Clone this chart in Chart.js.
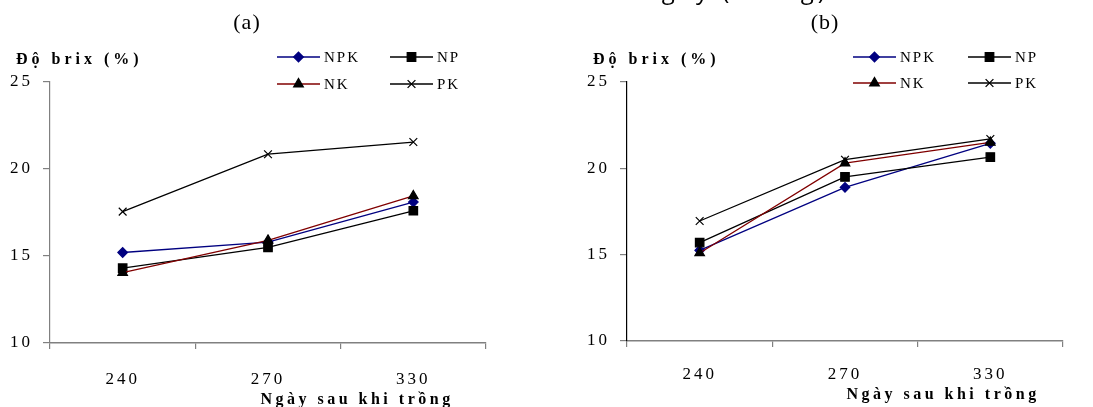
<!DOCTYPE html>
<html>
<head>
<meta charset="utf-8">
<script src="https://cdn.jsdelivr.net/npm/chart.js"></script>
<style>
  html, body { margin: 0; padding: 0; background: #fff; }
  #wrap { position: relative; width: 1093px; height: 407px; overflow: hidden; }
  canvas { position: absolute; top: 0; }
  #chartA { left: 0; }
  #chartB { left: 546px; }
</style>
</head>
<body>
<div id="wrap">
  <canvas id="chartA" width="546" height="407"></canvas>
  <canvas id="chartB" width="547" height="407"></canvas>
</div>
<script>
// Days after planting
const days = ['240', '270', '330'];
const seriesNames = ['NPK', 'NP', 'NK', 'PK'];

// (a)
const npkA = [15.2, 15.8, 18.1];
const npA = [14.3, 15.5, 17.6];
const nkA = [14.05, 15.9, 18.45];
const pkA = [17.55, 20.85, 21.55];

// (b)
const npkB = [15.25, 18.9, 21.45];
const npB = [15.7, 19.5, 20.65];
const nkB = [15.1, 20.3, 21.5];
const pkB = [16.95, 20.5, 21.7];

const yTicks = [10, 15, 20, 25];

const styles = [
    { color: '#000080', marker: 'rectRot', r: 4.8, fill: '#000080' },
    { color: '#000000', marker: 'rect', r: 6, fill: '#000000' },
    { color: '#800000', marker: 'triangle', r: 5.5, fill: '#000000' },
    { color: '#000000', marker: 'crossRot', r: 5.5, fill: '#000000' }
];

const serif = '"Liberation Serif", "Times New Roman", serif';

// draws panel label, y title, x title, and the legend
const textPlugin = {
    id: 'texts',
    beforeDraw(chart) {
        chart.ctx.letterSpacing = '3px';
    },
    afterDraw(chart) {
        const o = chart.options.plugins.texts;
        const ctx = chart.ctx;
        ctx.save();
        ctx.fillStyle = '#000';

        // caption of the figure above, cut off by the page edge
        if (o.topText) {
            ctx.letterSpacing = '4px';
            ctx.font = '24px "Open Sans", sans-serif';
            ctx.textAlign = 'left';
            ctx.textBaseline = 'alphabetic';
            ctx.fillText(o.topText, o.topTextX, -1);
        }

        ctx.letterSpacing = '1px';
        ctx.font = '22px ' + serif;
        ctx.textAlign = 'center';
        ctx.textBaseline = 'middle';
        ctx.fillText(o.panel, o.panelX, 23);

        ctx.letterSpacing = '4px';
        ctx.font = 'bold 16px ' + serif;
        ctx.textAlign = 'left';
        ctx.fillText('Độ brix (%)', o.yTitleX, 60);

        ctx.letterSpacing = '3.5px';
        ctx.textAlign = 'center';
        ctx.textBaseline = 'alphabetic';
        ctx.fillText('Ngày sau khi trồng', o.xTitleX, o.xTitleY);

        // legend, 2 x 2
        ctx.font = '15px ' + serif;
        ctx.letterSpacing = '2px';
        ctx.textAlign = 'left';
        ctx.textBaseline = 'middle';
        chart.data.datasets.forEach((ds, i) => {
            const col = i % 2, row = Math.floor(i / 2);
            const x0 = o.legendX[col], y = o.legendY[row];
            const x1 = x0 + 43;
            ctx.strokeStyle = ds.borderColor;
            ctx.lineWidth = 1.3;
            ctx.beginPath();
            ctx.moveTo(x0, y);
            ctx.lineTo(x1, y);
            ctx.stroke();
            ctx.fillStyle = ds.pointBackgroundColor;
            ctx.strokeStyle = ds.pointBorderColor;
            Chart.helpers.drawPoint(ctx, {
                pointStyle: ds.pointStyle,
                radius: ds.pointRadius,
                rotation: 0,
                borderWidth: 1.2
            }, (x0 + x1) / 2, y);
            ctx.fillStyle = '#000';
            ctx.fillText(ds.label, x1 + 4, y + 1);
        });
        ctx.restore();
    }
};

function makeChart(id, values, lay) {
    const datasets = values.map((v, i) => ({
        label: seriesNames[i],
        data: v,
        borderColor: styles[i].color,
        borderWidth: 1.3,
        pointStyle: styles[i].marker,
        pointRadius: styles[i].r,
        pointBackgroundColor: styles[i].fill,
        pointBorderColor: styles[i].fill,
        pointBorderWidth: 1.2,
        tension: 0,
        order: 3 - i
    }));

    return new Chart(document.getElementById(id), {
        type: 'line',
        data: { labels: days, datasets: datasets },
        options: {
            responsive: false,
            animation: false,
            events: [],
            layout: { padding: { top: 82, right: lay.padRight, left: 0, bottom: 0 } },
            plugins: {
                legend: { display: false },
                tooltip: { enabled: false },
                title: { display: false },
                texts: lay.texts
            },
            scales: {
                x: {
                    offset: true,
                    grid: { offset: true, drawOnChartArea: false, tickLength: 6, color: '#808080', lineWidth: 1.2 },
                    border: { color: '#808080', width: 1.5 },
                    ticks: { color: '#000', padding: lay.xPad, font: { family: serif, size: 17 } },
                    afterFit: s => { s.height = lay.xHeight; }
                },
                y: {
                    min: 10,
                    max: 25,
                    afterBuildTicks: s => { s.ticks = yTicks.map(v => ({ value: v })); },
                    grid: { drawOnChartArea: false, tickLength: 7, color: '#808080', lineWidth: 1.2 },
                    border: { color: lay.yAxisColor, width: 1.2 },
                    ticks: { color: '#000', padding: 10, font: { family: serif, size: 17 } },
                    afterFit: s => { s.width = lay.yWidth; }
                }
            }
        },
        plugins: [textPlugin]
    });
}

makeChart('chartA', [npkA, npA, nkA, pkA], {
    padRight: 60, yWidth: 50, xHeight: 64, xPad: 20, yAxisColor: '#808080',
    texts: {
        panel: '(a)', panelX: 247, yTitleX: 16,
        xTitleX: 357, xTitleY: 404,
        legendX: [277, 390], legendY: [57, 84]
    }
});

makeChart('chartB', [npkB, npB, nkB, pkB], {
    padRight: 30, yWidth: 81, xHeight: 66, xPad: 17, yAxisColor: '#000000',
    texts: {
        panel: '(b)', panelX: 279, yTitleX: 47,
        xTitleX: 397, xTitleY: 399,
        legendX: [307, 422], legendY: [57, 83],
        topText: 'ngày (tháng)', topTextX: 97
    }
});
</script>
</body>
</html>
